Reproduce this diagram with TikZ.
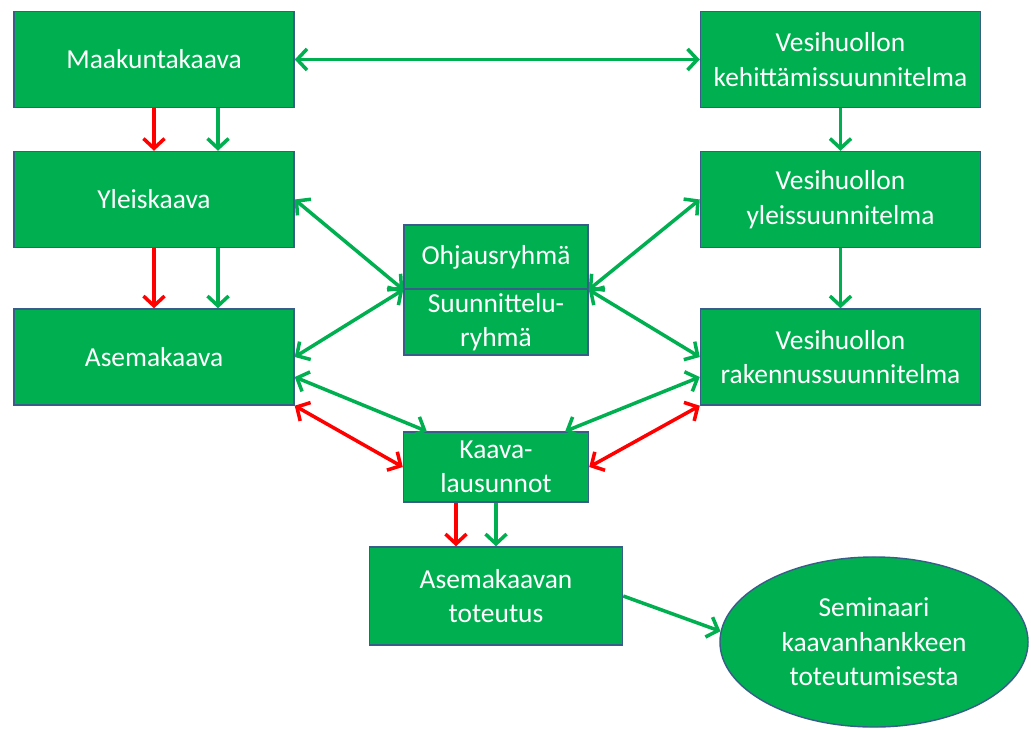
\documentclass[tikz,border=0pt]{standalone}
\usepackage{fontspec}
\setmainfont{Carlito}
\usetikzlibrary{arrows.meta,shapes.geometric}
\definecolor{boxgreen}{HTML}{00B050}
\definecolor{boxline}{HTML}{385D8A}
\definecolor{arrred}{HTML}{FF0000}

\begin{document}
\begin{tikzpicture}[x=0.025cm,y=-0.025cm,
    >={Straight Barb[length=7pt,width=15pt]},
    box/.style={draw=boxline,line width=1pt,fill=boxgreen,text=white,align=center,
        inner sep=0pt,font=\fontsize{19.5}{24.5}\selectfont},
    side/.style={box,minimum width=7cm,minimum height=2.4cm},
    g/.style={draw=boxgreen,line width=2.5pt},
    r/.style={draw=arrred,line width=2.5pt}]
    \useasboundingbox (0,0) rectangle (1031,729);
    \node[side](maak) at (154,59.5) {Maakuntakaava};
    \node[side](vkeh) at (840.5,59.5) {Vesihuollon\\kehittämissuunnitelma};
    \node[side](yleis) at (154,199.5) {Yleiskaava};
    \node[side](vyleis) at (840.5,199.5) {Vesihuollon\\yleissuunnitelma};
    \node[side](asema) at (154,357) {Asemakaava};
    \node[side](vrak) at (840.5,357) {Vesihuollon\\rakennussuunnitelma};
    \node[box,minimum width=4.6cm,minimum height=1.6cm](ohj) at (496,257) {Ohjausryhmä};
    \node[box,minimum width=4.6cm,minimum height=1.65cm](suun) at (496,322) {Suunnittelu-\\ryhmä};
    \node[box,minimum width=4.625cm,minimum height=1.75cm](kaava) at (496,467) {Kaava-\\lausunnot};
    \node[box,minimum width=6.325cm,minimum height=2.45cm](tot) at (496,596) {Asemakaavan\\toteutus};
    \node[box,ellipse,minimum width=7.7cm,minimum height=4.25cm](sem) at (874,642) {Seminaari\\kaavanhankkeen\\toteutumisesta};
    \draw[g,<->] (maak) -- (vkeh);
    \draw[r,->] (maak) -- (yleis);
    \draw[g,->] ([xshift=1.6cm]maak.south) -- ([xshift=1.6cm]yleis.north);
    \draw[r,->] (yleis) -- (asema);
    \draw[g,->] ([xshift=1.6cm]yleis.south) -- ([xshift=1.6cm]asema.north);
    \draw[g,->] (vkeh) -- (vyleis);
    \draw[g,->] (vyleis) -- (vrak);
    \draw[g,<->] (yleis.east) -- (ohj.south west);
    \draw[g,<->] (asema.east) -- (ohj.south west);
    \draw[g,<->] (vyleis.west) -- (ohj.south east);
    \draw[g,<->] (vrak.west) -- (ohj.south east);
    \draw[g,<->] ([yshift=-0.5cm]asema.east) -- ([xshift=0.6cm]kaava.north west);
    \draw[r,<->] (asema.south east) -- (kaava.west);
    \draw[g,<->] ([yshift=-0.5cm]vrak.west) -- ([xshift=-0.6cm]kaava.north east);
    \draw[r,<->] (vrak.south west) -- (kaava.east);
    \draw[r,->] ([xshift=-1cm]kaava.south) -- ([xshift=-1cm]tot.north);
    \draw[g,->] (kaava) -- (tot);
    \draw[g,->] (tot.east) -- (sem.176);
\end{tikzpicture}
\end{document}
